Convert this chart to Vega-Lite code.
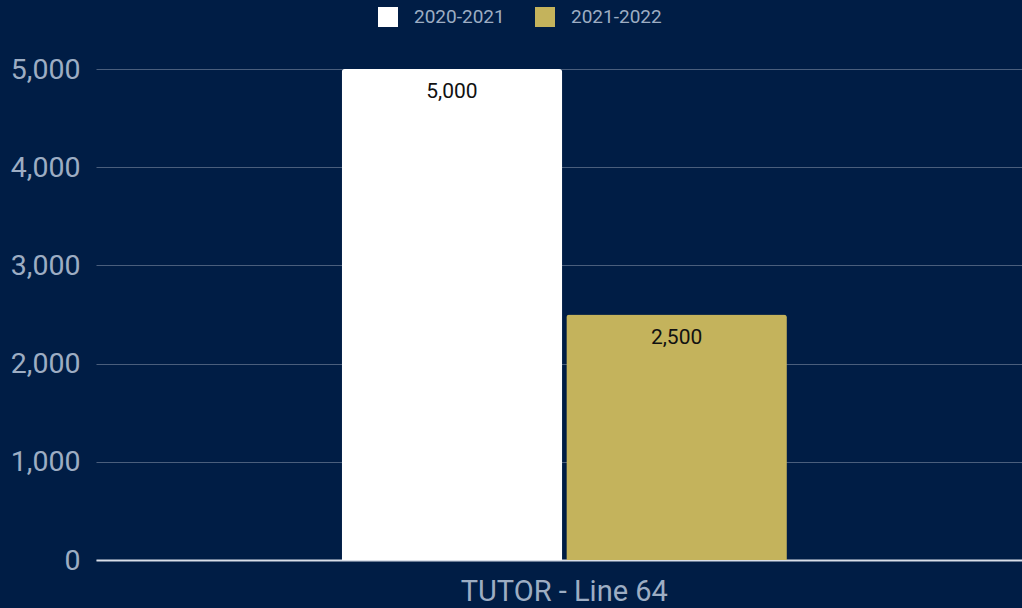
{
  "$schema": "https://vega.github.io/schema/vega-lite/v6.json",
  "width": 926,
  "height": 491,
  "autosize": {"type": "none"},
  "padding": {"left": 96, "top": 69, "right": 0, "bottom": 48},
  "background": "#001D45",
  "config": {
    "view": {"stroke": null},
    "font": "Roboto"
  },
  "data": {
    "values": [
      {"category": "TUTOR - Line 64", "series": "2020-2021", "value": 5000},
      {"category": "TUTOR - Line 64", "series": "2021-2022", "value": 2500}
    ]
  },
  "encoding": {
    "x": {
      "field": "category",
      "type": "nominal",
      "scale": {"paddingOuter": 0.54, "paddingInner": 0, "align": 0.511},
      "axis": {
        "title": null,
        "labelAngle": 0,
        "labelFontSize": 29,
        "labelLimit": 0,
        "labelColor": "#9DADC3",
        "labelPadding": 17,
        "domainColor": "#D8DEE8",
        "domainWidth": 2,
        "ticks": false
      }
    },
    "xOffset": {
      "field": "series",
      "type": "nominal",
      "scale": {"paddingInner": 0.018, "paddingOuter": 0}
    },
    "y": {
      "field": "value",
      "type": "quantitative",
      "scale": {"domain": [0, 5000]},
      "axis": {
        "title": null,
        "values": [0, 1000, 2000, 3000, 4000, 5000],
        "format": ",d",
        "labelFontSize": 28.5,
        "labelColor": "#9DADC3",
        "labelPadding": 16,
        "domain": false,
        "ticks": false,
        "gridColor": "#4A5E7C",
        "gridWidth": 1
      }
    }
  },
  "layer": [
    {
      "mark": {"type": "bar", "cornerRadiusTopLeft": 3, "cornerRadiusTopRight": 3},
      "encoding": {
        "color": {
          "field": "series",
          "type": "nominal",
          "scale": {"domain": ["2020-2021", "2021-2022"], "range": ["#FFFFFF", "#C4B35C"]},
          "legend": {
            "title": null,
            "orient": "none",
            "direction": "horizontal",
            "legendX": 282,
            "legendY": -62,
            "symbolType": "square",
            "symbolSize": 400,
            "symbolStrokeWidth": 0,
            "labelFontSize": 19,
            "labelColor": "#9DADC3",
            "labelOffset": 16,
            "columnPadding": 30
          }
        }
      }
    },
    {
      "mark": {"type": "text", "baseline": "middle", "dy": 23, "fontSize": 21, "color": "#111111"},
      "encoding": {
        "text": {"field": "value", "type": "quantitative", "format": ",d"}
      }
    }
  ]
}
